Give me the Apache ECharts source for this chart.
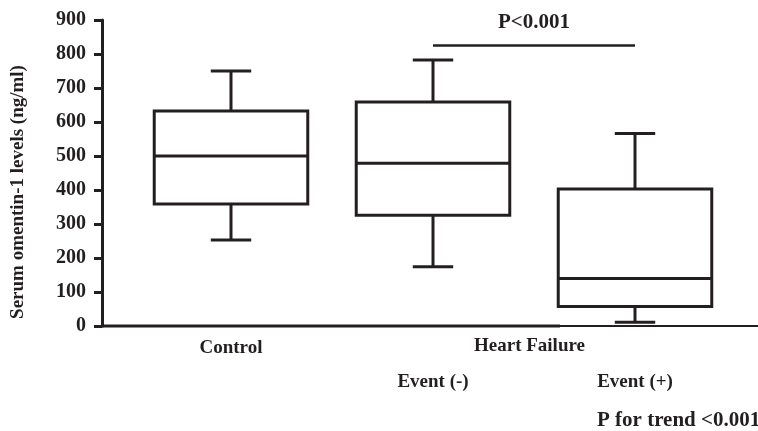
<!DOCTYPE html>
<html>
<head>
<meta charset="utf-8">
<script src="https://cdn.jsdelivr.net/npm/echarts@6/dist/echarts.min.js"></script>
<style>
  html, body { margin: 0; padding: 0; background: #fff; }
  #chart { width: 758px; height: 431px; }
</style>
</head>
<body>
<div id="chart"></div>
<script>
// groups on the x axis
const groups = ['Control', 'Event (-)', 'Event (+)'];
// box summary (ng/ml)
const whiskerLow = [253, 174, 11];
const q1 = [359, 326, 57];
const median = [500, 479, 140];
const q3 = [632, 659, 403];
const whiskerHigh = [750, 782, 566];
const yTicks = [0, 100, 200, 300, 400, 500, 600, 700, 800, 900];
// comparison bracket
const pairFrom = 1, pairTo = 2, pairLevel = 827;

const ink = '#231f20';
const font = 'Liberation Serif';

const rows = groups.map((g, i) => [i, whiskerLow[i], q1[i], median[i], q3[i], whiskerHigh[i]]);

const chart = echarts.init(document.getElementById('chart'));

const option = {
  animation: false,
  grid: { left: 130, right: 22, top: 20, bottom: 105 },
  xAxis: {
    type: 'category',
    data: groups,
    axisLine: { show: false },
    axisTick: { show: false },
    axisLabel: {
      margin: 5,
      lineHeight: 34,
      color: ink,
      fontFamily: font,
      fontWeight: 'bold',
      fontSize: 19,
      formatter: (v, i) => (i === 0 ? v : '\n' + v)
    }
  },
  yAxis: {
    type: 'value',
    min: yTicks[0],
    max: yTicks[yTicks.length - 1],
    interval: 100,
    offset: 28,
    name: 'Serum omentin-1 levels (ng/ml)',
    nameLocation: 'middle',
    nameRotate: 90,
    nameGap: 74,
    nameTextStyle: { color: ink, fontFamily: font, fontWeight: 'bold', fontSize: 19, padding: [0, 38, 0, 0] },
    axisLine: { show: true, lineStyle: { color: ink, width: 3 } },
    axisTick: { show: true, length: 8, lineStyle: { color: ink, width: 3 } },
    axisLabel: { margin: 16, color: ink, fontFamily: font, fontWeight: 'bold', fontSize: 20 },
    splitLine: { show: false }
  },
  series: [{
    type: 'custom',
    data: rows,
    encode: { x: 0, y: [1, 2, 3, 4, 5] },
    renderItem: function (params, api) {
      const i = api.value(0);
      const lo = api.coord([i, api.value(1)]);
      const b1 = api.coord([i, api.value(2)]);
      const md = api.coord([i, api.value(3)]);
      const b3 = api.coord([i, api.value(4)]);
      const hi = api.coord([i, api.value(5)]);
      const x = lo[0];
      const band = api.size([1, 0])[0];
      const hw = band * 0.76 / 2;
      const cw = band * 0.1;
      const st = { stroke: ink, lineWidth: 3, fill: null };
      const line = (x1, y1, x2, y2) => ({ type: 'line', shape: { x1, y1, x2, y2 }, style: st });
      return {
        type: 'group',
        children: [
          { type: 'rect', shape: { x: x - hw, y: b3[1], width: hw * 2, height: b1[1] - b3[1] }, style: st },
          line(x - hw, md[1], x + hw, md[1]),
          line(x, b3[1], x, hi[1]),
          line(x, b1[1], x, lo[1]),
          line(x - cw, hi[1], x + cw, hi[1]),
          line(x - cw, lo[1], x + cw, lo[1])
        ]
      };
    },
    markLine: {
      silent: true,
      symbol: ['none', 'none'],
      lineStyle: { color: ink, width: 2.5, type: 'solid' },
      label: {
        show: true,
        position: 'middle',
        distance: 12,
        formatter: 'P<0.001',
        color: ink,
        fontFamily: font,
        fontWeight: 'bold',
        fontSize: 21
      },
      data: [[{ coord: [pairFrom, pairLevel] }, { coord: [pairTo, pairLevel] }]]
    }
  }],
  graphic: [
    { type: 'line', silent: true, shape: { x1: 101, y1: 326, x2: 560, y2: 326 }, style: { stroke: ink, lineWidth: 3 } },
    { type: 'line', silent: true, shape: { x1: 560, y1: 326, x2: 758, y2: 326 }, style: { stroke: ink, lineWidth: 2 } },
    { type: 'text', left: 474, top: 337, style: { text: 'Heart Failure', fill: ink, font: 'bold 19px "Liberation Serif"' } },
    { type: 'text', left: 597, top: 410, style: { text: 'P for trend <0.001', fill: ink, font: 'bold 21px "Liberation Serif"' } }
  ]
};

chart.setOption(option);
</script>
</body>
</html>
